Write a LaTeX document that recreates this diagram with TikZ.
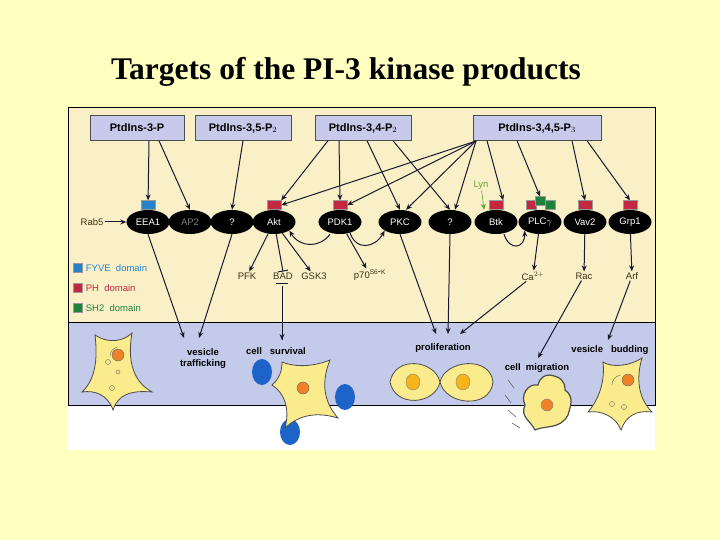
\documentclass[tikz,border=0pt]{standalone}
\usepackage{fontspec}
\setmainfont{Liberation Sans}
\newfontfamily\titlefont{Liberation Serif}
\usetikzlibrary{arrows.meta,shapes.geometric}
\definecolor{bgy}{RGB}{255,255,192}
\definecolor{pany}{RGB}{250,240,200}
\definecolor{panb}{RGB}{196,202,234}
\definecolor{boxc}{RGB}{200,202,236}
\definecolor{arr}{RGB}{25,25,45}
\definecolor{phr}{RGB}{195,40,65}
\definecolor{fyb}{RGB}{40,130,200}
\definecolor{sh2}{RGB}{30,130,60}
\definecolor{txt}{RGB}{60,50,20}
\definecolor{celly}{RGB}{250,235,140}
\definecolor{nuc}{RGB}{240,130,40}
\definecolor{blob}{RGB}{30,100,200}
\begin{document}
\begin{tikzpicture}[x=1pt,y=-1pt,
  ptd/.style={draw=black!70,fill=boxc,minimum height=25pt,font=\bfseries\fontsize{11}{12}\selectfont,inner sep=2pt},
  prot/.style={ellipse,fill=black,text=white,minimum width=43pt,minimum height=24pt,inner sep=0pt,font=\fontsize{9.5}{10}\selectfont},
  lab/.style={text=txt,font=\fontsize{9.5}{10}\selectfont,inner sep=1pt},
  blab/.style={text=black,font=\bfseries\fontsize{9.5}{11}\selectfont,inner sep=1pt,align=center},
  ar/.style={draw=arr,line width=1pt,-{Stealth[length=6pt,width=5pt]}},
  dom/.style={minimum width=14pt,minimum height=9pt,inner sep=0pt,draw=black!40},
  cell/.style={draw=black!70,fill=celly,line width=0.8pt}]
\fill[bgy] (0,0) rectangle (720,540);
\useasboundingbox (0,0) rectangle (720,540);
\node[font=\titlefont\bfseries\fontsize{31.5}{36}\selectfont] (title) at (346,72) {Targets of the PI-3 kinase products};
% panels
\fill[white] (68,108) rectangle (655,450);
\fill[pany] (68,108) rectangle (655,322);
\fill[panb] (68,322) rectangle (655,405);
\draw[black,line width=1pt] (68,108) rectangle (655,405);
\draw[black,line width=1pt] (68,322) -- (655,322);
% top boxes
\node[ptd,minimum width=94pt] (p3) at (137,128) {PtdIns-3-P};
\node[ptd,minimum width=96pt] (p35) at (243,128) {PtdIns-3,5-P$_2$};
\node[ptd,minimum width=96pt] (p34) at (363,128) {PtdIns-3,4-P$_2$};
\node[ptd,minimum width=128pt] (p345) at (537,128) {PtdIns-3,4,5-P$_3$};
% proteins
\node[prot] (eea) at (148,222) {EEA1};
\node[prot,text=black!50] (ap2) at (190,222) {AP2};
\node[prot] (q1) at (232,222) {?};
\node[prot] (akt) at (274,222) {Akt};
\node[prot] (pdk) at (340,222) {PDK1};
\node[prot] (pkc) at (400,222) {PKC};
\node[prot] (q2) at (450,222) {?};
\node[prot] (btk) at (496,222) {Btk};
\node[prot] (plc) at (540,222) {PLC$\gamma$};
\node[prot] (vav) at (585,222) {Vav2};
\node[prot] (grp) at (630,222) {Grp1};
% domains
\node[dom,fill=fyb,anchor=south] (d1) at (eea.north) {};
\foreach \n in {akt,pdk,btk,vav,grp}{\node[dom,fill=phr,anchor=south] (d\n) at (\n.north) {};}
\node[dom,fill=phr,anchor=south,minimum width=10pt] (dpl1) at ([xshift=-9pt]plc.north) {};
\node[dom,fill=sh2,anchor=south,minimum width=10pt] (dpl2) at ([yshift=4pt]plc.north) {};
\node[dom,fill=sh2,anchor=south,minimum width=10pt] (dpl3) at ([xshift=10pt]plc.north) {};
% side labels
\node[lab] (rab) at (92,222) {Rab5};
\node[lab,text=sh2!70!yellow] (lyn) at (481,185) {Lyn};
\draw[ar] (rab) -- (eea);
\draw[ar,draw=sh2!70!yellow,line width=0.6pt] (lyn) -- ([xshift=-12pt]btk.north);
% arrows from lipids
\draw[ar] ([xshift=12pt]p3.south) -- (d1);
\draw[ar] ([xshift=22pt]p3.south) -- (ap2.north);
\draw[ar] (p35.south) -- (q1.north);
\draw[ar] ([xshift=-35pt]p34.south) -- (dakt.north east);
\draw[ar] ([xshift=-24pt]p34.south) -- (dpdk.north);
\draw[ar] ([xshift=4pt]p34.south) -- (pkc.north);
\draw[ar] ([xshift=30pt]p34.south) -- (q2.north);
\coordinate (src) at (476,141);
\draw[ar] (src) -- (dakt.east);
\draw[ar] (src) -- (dpdk.east);
\draw[ar] (src) -- ([xshift=6pt]pkc.north);
\draw[ar] (src) -- ([xshift=5pt]q2.north);
\draw[ar] ([xshift=-50pt]p345.south) -- (dbtk.north east);
\draw[ar] ([xshift=-20pt]p345.south) -- (dpl2.north);
\draw[ar] ([xshift=35pt]p345.south) -- (dvav.north);
\draw[ar] ([xshift=50pt]p345.south) -- (dgrp.north);
% downstream labels
\node[lab] (pfk) at (247,276) {PFK};
\node[lab] (bad) at (283,276) {BAD};
\node[lab] (gsk) at (314,276) {GSK3};
\node[lab] (p70) at (370,275) {p70$^{\mathrm{S6}\textrm{-}\mathrm{K}}$};
\node[lab] (ca) at (533,276) {Ca$^{2+}$};
\node[lab] (rac) at (584,276) {Rac};
\node[lab] (arf) at (632,276) {Arf};
\draw[ar] (akt) -- (pfk);
\draw[ar] (akt) -- (gsk);
\draw[draw=arr,line width=1pt,-{Bar[width=10pt]}] (akt) -- (bad.north);
\draw[ar] (pdk) -- (p70);
\draw[ar] (plc) -- (ca);
\draw[ar] (vav) -- (rac);
\draw[ar] (grp) -- (arf);
\draw[ar] ([xshift=-10pt]pdk.south) .. controls (320,248) and (300,248) .. (akt.south east);
\draw[ar] ([xshift=-6pt]pdk.south east) .. controls (355,252) and (375,248) .. (pkc.south west);
\draw[ar] ([xshift=8pt]btk.south) .. controls (510,252) and (525,248) .. (plc.south west);
% legend
\node[dom,fill=fyb,minimum width=9pt] (l1) at (78,268) {};
\node[dom,fill=phr,minimum width=9pt] (l2) at (78,288) {};
\node[dom,fill=sh2,minimum width=9pt] (l3) at (78,308) {};
\node[lab,text=fyb,anchor=west] (t1) at ([xshift=2pt]l1.east) {FYVE\ \ domain};
\node[lab,text=phr,anchor=west] (t2) at ([xshift=2pt]l2.east) {PH\ \ domain};
\node[lab,text=sh2,anchor=west] (t3) at ([xshift=2pt]l3.east) {SH2\ \ domain};
% bottom labels
\node[blab] (vt) at (203,359) {vesicle\\trafficking};
\node[blab] (cs) at (276,351) {cell\ \ \ survival};
\node[blab] (pro) at (443,348) {proliferation};
\node[blab] (cm) at (537,368) {cell\ \ migration};
\node[blab] (vb) at (610,350) {vesicle\ \ \ budding};
\draw[ar] (eea.south) -- (184,338);
\draw[ar] (q1.south) -- (199,338);
\draw[draw=arr,line width=1pt] (bad.south) ++(-1,6) -- (282,340);
\draw[draw=arr,line width=1pt] (276,283) -- (288,283);
\draw[ar] (282,300) -- (282,340);
\draw[ar] (pkc.south) -- (436,334);
\draw[ar] (q2.south) -- (448,334);
\draw[ar] (ca) -- (460,334);
\draw[ar] (rac) -- (538,358);
\draw[ar] (arf) -- (608,340);
% cells
\draw[cell] (95,335) .. controls (110,345) and (125,340) .. (132,333) .. controls (128,355) and (130,380) .. (152,392) .. controls (130,390) and (118,395) .. (113,410) .. controls (108,395) and (95,390) .. (82,392) .. controls (95,380) and (98,360) .. cycle;
\fill[nuc,draw=black!60] (118,355) circle (6);
\draw[black!60] (108,362) circle (2.5) (118,372) circle (2) (112,388) circle (2.5);
\draw[black!60] (110,356) arc (180:260:9);
\foreach \c in {(262,372),(345,397),(290,432)}{\fill[blob] \c ellipse (10 and 13);}
\draw[cell] (282,362) .. controls (297,368) and (315,366) .. (330,360) .. controls (322,380) and (322,400) .. (338,418) .. controls (318,412) and (300,414) .. (285,428) .. controls (290,410) and (285,393) .. (272,385) .. controls (280,378) and (282,370) .. cycle;
\fill[nuc,draw=black!60] (303,388) circle (6);
\draw[cell] (440,382) .. controls (435,360) and (395,355) .. (390,382) .. controls (395,408) and (435,405) .. (440,382) .. controls (445,405) and (490,410) .. (493,382) .. controls (490,355) and (445,360) .. cycle;
\fill[nuc!60!yellow,draw=black!50] (413,382) ellipse (7 and 8) (463,382) ellipse (7 and 8);
\draw[cell,line width=1.2pt] (550,375) .. controls (560,377) and (565,380) .. (565,390) .. controls (575,397) and (570,407) .. (568,415) .. controls (560,430) and (545,425) .. (535,430) .. controls (530,420) and (520,417) .. (525,405) .. controls (520,395) and (528,383) .. (538,385) .. controls (540,377) and (545,375) .. cycle;
\fill[nuc,draw=black!50] (547,405) circle (6);
\draw[black!60,line width=0.6pt] (508,380)--(514,388) (505,395)--(511,403) (508,410)--(516,417) (512,423)--(520,428);
\draw[cell] (603,362) .. controls (612,368) and (630,366) .. (642,358) .. controls (636,378) and (638,398) .. (652,412) .. controls (636,410) and (626,416) .. (621,430) .. controls (616,417) and (602,410) .. (588,412) .. controls (600,398) and (605,380) .. cycle;
\fill[nuc,draw=black!60] (628,380) circle (6);
\draw[black!60] (612,385) arc (180:260:10) (612,404) circle (2.5) (624,407) circle (2.5);
\end{tikzpicture}
\end{document}
